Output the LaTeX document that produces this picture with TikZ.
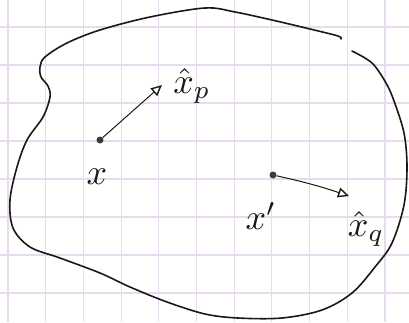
\documentclass[tikz,border=0pt]{standalone}
\usetikzlibrary{arrows.meta}
\definecolor{gridc}{RGB}{234,218,240}
\definecolor{ink}{RGB}{25,25,25}
\newcommand{\bigsym}[1]{\scalebox{3.6}{#1}}
\tikzset{
  gridline/.style={gridc, line width=1.1pt},
  blob/.style={ink, line width=1.6pt, line cap=round, line join=round},
  ptdot/.style={circle, fill=ink!85, inner sep=0pt, minimum size=7pt},
  vecarrow/.style={ink, line width=1pt, -{Triangle[open, length=11pt, width=10pt, line width=1.4pt]}},
  lab/.style={ink, inner sep=0pt}
}
\begin{document}
\begin{tikzpicture}[x=1pt,y=-1pt]
\useasboundingbox[fill=white] (0,0) rectangle (409,322);
% grid paper
\foreach \gx in {8,45.7,83.4,121.1,158.8,196.5,234.2,271.9,309.6,347.3,385} {
  \draw[gridline] (\gx,0) -- (\gx,322);
}
\foreach \gy in {27,65,103,141,179,217,255,293} {
  \draw[gridline] (0,\gy) -- (409,\gy);
}
% region outline (open curve with small gap at top right)
\draw[blob] plot[smooth, tension=0.55] coordinates {
  (352,51) (372,63) (386,83) (394,101) (404,133) (407,167) (404,205)
  (392,243) (375,267) (352,293) (322,310) (282,318) (238,318) (205,314)
  (167,302) (130,287) (100,273) (60,258) (30,247) (13,228) (10,200)
  (17,167) (27,140) (43,117) (50,97) (48,86) (41,77) (40,67) (45,57)
  (67,43) (100,30) (150,17) (205,8) (235,12) (272,20) (310,29) (338,36) (341,39)
};
% points
\node[ptdot] (x) at (100,140) {};
\node[ptdot] (xp) at (273,175) {};
\coordinate (xhp) at (162,85);
\coordinate (xhq) at (349,196);
\draw[vecarrow] (x) -- (xhp);
\draw[vecarrow] (xp) to[bend left=3] (xhq);
% labels
\node[lab] (lx) at (97,177) {\bigsym{$x$}};
\node[lab] (lxhp) at (192,86) {\bigsym{$\hat{x}_p$}};
\node[lab] (lxp) at (261,216) {\bigsym{$x'$}};
\node[lab] (lxhq) at (366,229) {\bigsym{$\hat{x}_q$}};
\end{tikzpicture}
\end{document}
